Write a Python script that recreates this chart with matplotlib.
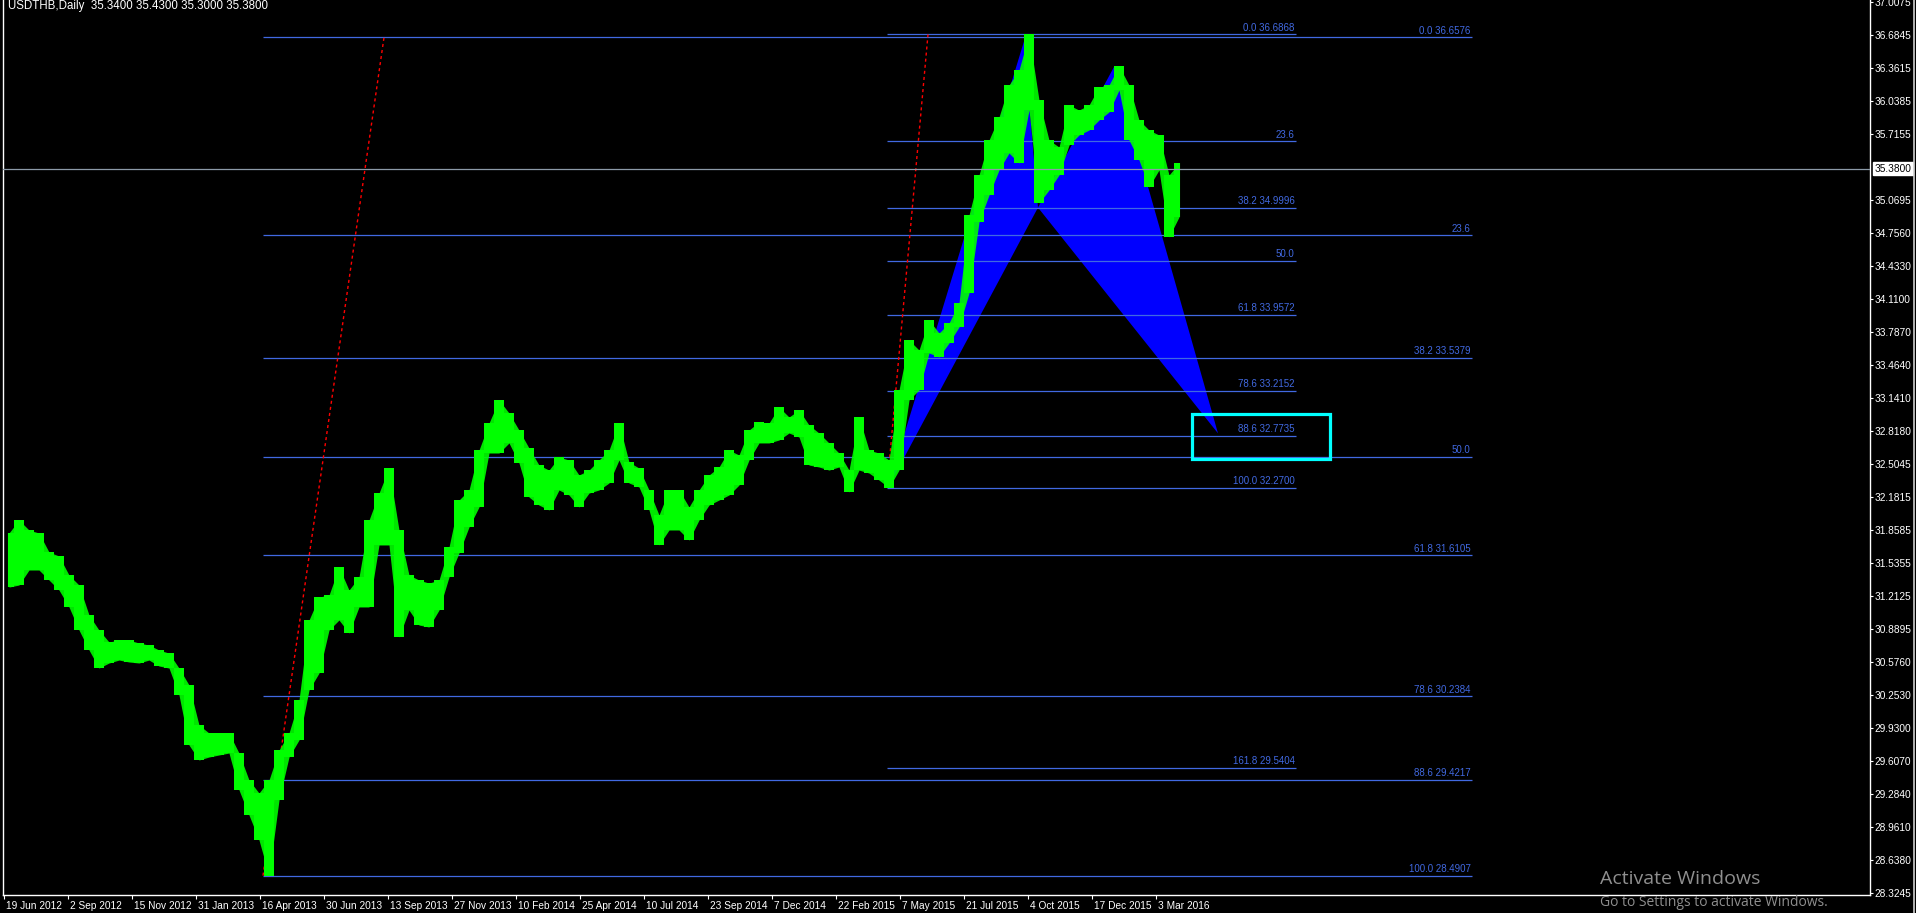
import numpy as np
import matplotlib
matplotlib.use("Agg")
import matplotlib.pyplot as plt
from matplotlib.patches import Polygon, Rectangle

plt.rcParams['lines.scale_dashes'] = False

# ---------------- data ----------------
symbol_title = "USDTHB,Daily  35.3400 35.4300 35.3000 35.3800"

bars_per_segment = 10
seg_high = [31.829, 31.955, 31.858, 31.829, 31.643, 31.605, 31.419, 31.322, 31.030, 30.883,
            30.767, 30.786, 30.786, 30.757, 30.737, 30.689, 30.659, 30.513, 30.348, 29.958,
            29.880, 29.880, 29.880, 29.685, 29.422, 29.295, 29.422, 29.714, 29.880, 30.201,
            30.981, 31.205, 31.224, 31.497, 31.273, 31.400, 31.955, 32.218, 32.462, 31.858,
            31.419, 31.371, 31.341, 31.371, 31.692, 32.150, 32.248, 32.637, 32.900, 33.125,
            32.998, 32.832, 32.657, 32.491, 32.442, 32.569, 32.540, 32.394, 32.442, 32.540,
            32.637, 32.900, 32.520, 32.462, 32.248, 32.004, 32.248, 32.248, 32.082, 32.248,
            32.394, 32.472, 32.637, 32.589, 32.832, 32.910, 32.900, 33.056, 32.959, 33.027,
            32.881, 32.803, 32.706, 32.608, 32.442, 32.959, 32.637, 32.608, 32.540, 33.222,
            33.709, 33.612, 33.904, 33.777, 33.875, 34.070, 34.927, 35.317, 35.658, 35.882,
            36.194, 36.340, 36.6868, 36.048, 35.658, 35.590, 35.999, 35.950, 35.999, 36.174,
            36.194, 36.379, 36.194, 35.853, 35.755, 35.707, 35.317, 35.434]
seg_low = [31.302, 31.322, 31.468, 31.468, 31.371, 31.273, 31.108, 30.883, 30.689, 30.513,
           30.562, 30.591, 30.572, 30.562, 30.591, 30.533, 30.513, 30.250, 29.763, 29.617,
           29.646, 29.666, 29.685, 29.325, 29.081, 28.837, 28.4907, 29.227, 29.646, 29.812,
           30.299, 30.464, 30.883, 30.981, 30.854, 31.108, 31.108, 31.712, 31.712, 30.815,
           31.078, 30.932, 30.913, 31.078, 31.400, 31.634, 31.887, 32.082, 32.608, 32.608,
           32.706, 32.511, 32.179, 32.101, 32.053, 32.248, 32.199, 32.082, 32.218, 32.248,
           32.316, 32.540, 32.316, 32.277, 32.053, 31.712, 31.858, 31.858, 31.760, 31.955,
           32.101, 32.150, 32.199, 32.296, 32.540, 32.706, 32.706, 32.735, 32.803, 32.764,
           32.491, 32.472, 32.442, 32.472, 32.228, 32.442, 32.413, 32.345, 32.270, 32.442,
           33.125, 33.222, 33.583, 33.544, 33.680, 33.836, 34.167, 34.859, 35.122, 35.366,
           35.531, 35.434, 35.950, 35.044, 35.171, 35.317, 35.609, 35.707, 35.755, 35.853,
           35.931, 36.145, 35.658, 35.463, 35.200, 35.366, 34.713, 34.908]
last_price = 35.38

bars_per_date_label = 64
date_labels = ["19 Jun 2012", "2 Sep 2012", "15 Nov 2012", "31 Jan 2013", "16 Apr 2013",
               "30 Jun 2013", "13 Sep 2013", "27 Nov 2013", "10 Feb 2014", "25 Apr 2014",
               "10 Jul 2014", "23 Sep 2014", "7 Dec 2014", "22 Feb 2015", "7 May 2015",
               "21 Jul 2015", "4 Oct 2015", "17 Dec 2015", "3 Mar 2016"]

price_ticks = [37.0075, 36.6845, 36.3615, 36.0385, 35.7155, 35.0695, 34.7560, 34.4330,
               34.1100, 33.7870, 33.4640, 33.1410, 32.8180, 32.5045, 32.1815, 31.8585,
               31.5355, 31.2125, 30.8895, 30.5760, 30.2530, 29.9300, 29.6070, 29.2840,
               28.9610, 28.6380, 28.3245]

# Fibonacci retracement 1 (big swing)
fib1_anchor_bars = [259, 380]
fib1_anchor_prices = [28.4907, 36.6576]
fib1_end_bar = 1468
fib1_levels = [0.0, 23.6, 38.2, 50.0, 61.8, 78.6, 88.6, 100.0]
fib1_labels = ["0.0 36.6576", "23.6", "38.2 33.5379", "50.0", "61.8 31.6105",
               "78.6 30.2384", "88.6 29.4217", "100.0 28.4907"]

# Fibonacci retracement 2 (2015 swing)
fib2_anchor_bars = [883, 924]
fib2_anchor_prices = [32.2700, 36.6868]
fib2_end_bar = 1292
fib2_levels = [0.0, 23.6, 38.2, 50.0, 61.8, 78.6, 88.6, 100.0, 161.8]
fib2_labels = ["0.0 36.6868", "23.6", "38.2 34.9996", "50.0", "61.8 33.9572",
               "78.6 33.2152", "88.6 32.7735", "100.0 32.2700", "161.8 29.5404"]

# Harmonic pattern X-A-B-C-D
pattern_bars = [884, 1020, 1034, 1110, 1214]
pattern_prices = [32.27, 36.62, 35.00, 36.37, 32.80]

# Target zone rectangle
zone_bars = [1188, 1326]
zone_prices = [32.55, 32.99]

# ---------------- layout ----------------
W, H = 1916, 913
fig = plt.figure(figsize=(W / 100, H / 100), dpi=100, facecolor="black")
ax_l, ax_r, ax_t, ax_b = 3, 1870, 0, 895
ax = fig.add_axes([ax_l / W, (H - ax_b) / H, (ax_r - ax_l) / W, (ax_b - ax_t) / H])
ax.set_facecolor("black")
x_off = 4  # pixel of bar 0
ax.set_xlim(ax_l - x_off, ax_r - x_off)
ppu = 102.63
y_top = 37.0224
ax.set_ylim(y_top - (ax_b - ax_t) / ppu, y_top)

for s in ["left", "bottom", "right"]:
    ax.spines[s].set_color("white")
    ax.spines[s].set_linewidth(1.0)
ax.spines["top"].set_visible(False)

FONT = "Liberation Sans"
BLUE = "#4169E1"

# price ticks on right
ax.yaxis.tick_right()
ax.set_yticks(price_ticks)
ax.set_yticklabels([f"{v:.4f}" for v in price_ticks], fontfamily=FONT, fontsize=7.3, color="white")
ax.tick_params(axis="y", colors="white", length=2.2, width=0.8, pad=1.2)

# date ticks on bottom
date_pos = [j * bars_per_date_label for j in range(len(date_labels))]
ax.set_xticks(date_pos)
ax.set_xticklabels([])
ax.tick_params(axis="x", colors="white", length=3, width=0.8)
for p, lab in zip(date_pos, date_labels):
    ax.annotate(lab, xy=(p, 0), xycoords=("data", "axes fraction"), xytext=(1.6, -4),
                textcoords="offset points", ha="left", va="top", color="white",
                fontsize=7.3, fontfamily=FONT, annotation_clip=False)

# harmonic pattern triangles
pts = list(zip(pattern_bars, pattern_prices))
ax.add_patch(Polygon([pts[0], pts[1], pts[2]], closed=True, facecolor="#0000FF", edgecolor="none", zorder=1))
ax.add_patch(Polygon([pts[2], pts[3], pts[4]], closed=True, facecolor="#0000FF", edgecolor="none", zorder=1))

# fibonacci objects
def draw_fib(anchor_bars, anchor_prices, end_bar, levels, labels):
    lo, hi = anchor_prices
    rng = hi - lo
    for lv, lab in zip(levels, labels):
        p = hi - lv / 100.0 * rng
        ax.plot([anchor_bars[0], end_bar], [p, p], color=BLUE, lw=0.9, zorder=2, solid_capstyle="butt")
        ax.annotate(lab, xy=(end_bar, p), xytext=(-1, 1.2), textcoords="offset points",
                    ha="right", va="bottom", color=BLUE, fontsize=7, fontfamily=FONT, zorder=5)
    ax.plot(anchor_bars, anchor_prices, color="#FF0000", lw=1.0, linestyle=(0, (2.2, 2.2)), zorder=2)

draw_fib(fib1_anchor_bars, fib1_anchor_prices, fib1_end_bar, fib1_levels, fib1_labels)
draw_fib(fib2_anchor_bars, fib2_anchor_prices, fib2_end_bar, fib2_levels, fib2_labels)

# price bars (one block per segment of daily bars)
n = len(seg_high)
xs = np.arange(n) * bars_per_segment + bars_per_segment // 2
ax.fill_between(xs, seg_low, seg_high, color="#00FF00", lw=0, zorder=3, step="mid")
ax.fill_between(xs, seg_low, seg_high, color="#00FF00", lw=0, zorder=3, alpha=0.9)
ax.vlines(xs, seg_low, seg_high, color="#00FF00", lw=1.5, zorder=3)

# current price line
ax.axhline(last_price, color="#8C9AA8", lw=0.9, zorder=4)
ax.annotate(f"{last_price:.4f}", xy=(1, last_price), xycoords=("axes fraction", "data"),
            xytext=(3.2, 0), textcoords="offset points", ha="left", va="center", color="black",
            fontsize=7.3, fontfamily=FONT, annotation_clip=False,
            bbox=dict(boxstyle="square,pad=0.15", facecolor="white", edgecolor="white"))

# target zone
ax.add_patch(Rectangle((zone_bars[0], zone_prices[0]), zone_bars[1] - zone_bars[0],
                       zone_prices[1] - zone_prices[0], fill=False, edgecolor="#00FFFF", lw=2.3, zorder=6))

# title
fig.text(8 / W, 1 - 0.0 / H, symbol_title, ha="left", va="top", color="white", fontsize=8.3, fontfamily=FONT)

# right window border
fig.add_artist(plt.Line2D([1913.5 / W, 1913.5 / W], [0, 1], color="#d0d0d0", lw=1.2))

# watermark
fig.text(1600 / W, 1 - 879 / H, "Activate Windows", ha="left", va="center", color="#8f8f8f",
         fontsize=14, fontfamily="Open Sans")
fig.text(1600 / W, 1 - 902 / H, "Go to Settings to activate Windows.", ha="left", va="center",
         color="#8f8f8f", fontsize=10, fontfamily="Open Sans")

fig.savefig("out.png", dpi=100, facecolor="black")
